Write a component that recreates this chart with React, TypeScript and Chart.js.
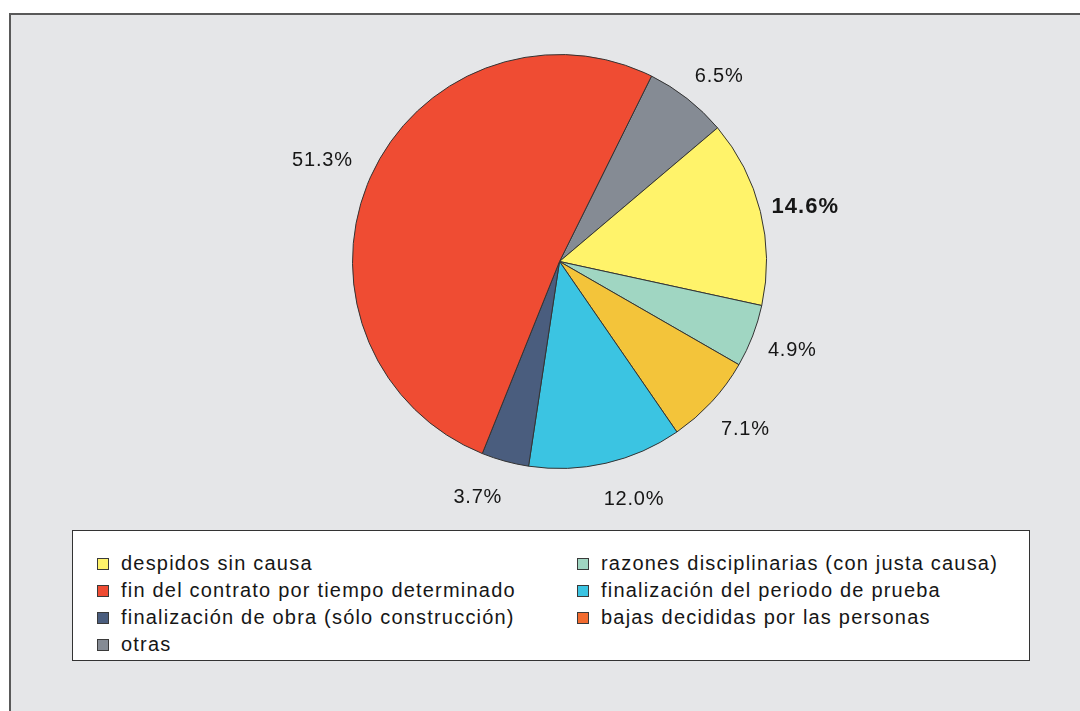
import React, { useEffect, useRef } from "react";
import { Chart, registerables } from "chart.js";

Chart.register(...registerables);

// ---- data (slice order, clockwise from the start angle) ----
const categories = [
  "otras",
  "despidos sin causa",
  "razones disciplinarias (con justa causa)",
  "bajas decididas por las personas",
  "finalización del periodo de prueba",
  "finalización de obra (sólo construcción)",
  "fin del contrato por tiempo determinado",
];
const shares = [6.5, 14.6, 4.9, 7.1, 12.0, 3.7, 51.3];
const sliceColors = ["#858B94", "#FFF36A", "#A0D6C2", "#F3C43A", "#3BC4E2", "#4A5D7E", "#EF4C33"];
const legendColors = ["#858B94", "#FFF36A", "#A0D6C2", "#F26B2F", "#3BC4E2", "#4A5D7E", "#EF4C33"];
const highlighted = ["despidos sin causa"];
const legendLeftColumn = [
  "despidos sin causa",
  "fin del contrato por tiempo determinado",
  "finalización de obra (sólo construcción)",
  "otras",
];
const legendRightColumn = [
  "razones disciplinarias (con justa causa)",
  "finalización del periodo de prueba",
  "bajas decididas por las personas",
];

// label placement tweaks (style): angular shift in degrees and gap beyond the rim
const labelAngleShift = [2.5, 1.2, -0.3, -0.7, -4.5, 3.9, -0.9];
const labelGap = [38.5, 45, 42, 43, 41, 42, 51];

const FONT = '"Liberation Sans", Arial, Helvetica, sans-serif';

const pctLabelPlugin = {
  id: "pctLabels",
  afterDatasetsDraw(chart: any) {
    const ctx = chart.ctx;
    const meta = chart.getDatasetMeta(0);
    ctx.save();
    meta.data.forEach((arc: any, i: number) => {
      const p = arc.getProps(["x", "y", "startAngle", "endAngle", "outerRadius"], true);
      const a = (p.startAngle + p.endAngle) / 2 + (labelAngleShift[i] * Math.PI) / 180;
      const r = p.outerRadius + labelGap[i];
      const x = p.x + Math.cos(a) * r;
      const y = p.y + Math.sin(a) * r;
      const bold = highlighted.includes(categories[i]);
      ctx.font = `${bold ? "bold 22px" : "20px"} ${FONT}`;
      (ctx as any).letterSpacing = bold ? "1px" : "0.8px";
      ctx.fillStyle = "#161616";
      ctx.textAlign = "center";
      ctx.textBaseline = "middle";
      ctx.fillText(shares[i].toFixed(1) + "%", x, y + 1);
    });
    ctx.restore();
  },
};

function PieChart() {
  const ref = useRef<HTMLCanvasElement | null>(null);
  useEffect(() => {
    if (!ref.current) return;
    const chart = new Chart(ref.current, {
      type: "pie",
      data: {
        labels: categories,
        datasets: [
          {
            data: shares,
            backgroundColor: sliceColors,
            borderColor: "#333333",
            borderWidth: 1,
            radius: 207,
          } as any,
        ],
      },
      options: {
        animation: false,
        responsive: false,
        devicePixelRatio: 1,
        rotation: 26.4,
        layout: { padding: { left: 39, top: 3, right: 0, bottom: 0 } },
        plugins: {
          legend: { display: false },
          tooltip: { enabled: false },
          title: { display: false },
        },
      } as any,
      plugins: [pctLabelPlugin],
    });
    return () => chart.destroy();
  }, []);
  return (
    <canvas
      ref={ref}
      width={1080}
      height={520}
      style={{ position: "absolute", left: 0, top: 0, width: 1080, height: 520, display: "block" }}
    />
  );
}

function LegendItem({ label, left, row }: { label: string; left: number; row: number }) {
  const idx = categories.indexOf(label);
  return (
    <div
      style={{
        position: "absolute",
        left,
        top: 19 + row * 27,
        height: 27,
        display: "flex",
        alignItems: "center",
        whiteSpace: "nowrap",
      }}
    >
      <span
        style={{
          display: "inline-block",
          width: 12,
          height: 12,
          boxSizing: "border-box",
          border: "1px solid #3a3a3a",
          background: legendColors[idx],
          marginRight: 12,
        }}
      />
      <span style={{ font: `20px ${FONT}`, letterSpacing: "1.2px", color: "#161616", lineHeight: "27px" }}>
        {label}
      </span>
    </div>
  );
}

export default function App() {
  return (
    <div
      style={{
        position: "absolute",
        left: 0,
        top: 0,
        width: 1080,
        height: 711,
        overflow: "hidden",
        background: "#ffffff",
      }}
    >
      <div
        style={{
          position: "absolute",
          left: 9,
          top: 13,
          width: 1100,
          height: 720,
          background: "#E5E6E8",
          borderTop: "2px solid #595959",
          borderLeft: "2px solid #595959",
        }}
      />
      <PieChart />
      <div
        style={{
          position: "absolute",
          left: 72,
          top: 530,
          width: 956,
          height: 129,
          background: "#ffffff",
          border: "1px solid #333333",
        }}
      >
        {legendLeftColumn.map((l, r) => (
          <LegendItem key={l} label={l} left={24} row={r} />
        ))}
        {legendRightColumn.map((l, r) => (
          <LegendItem key={l} label={l} left={504} row={r} />
        ))}
      </div>
    </div>
  );
}
